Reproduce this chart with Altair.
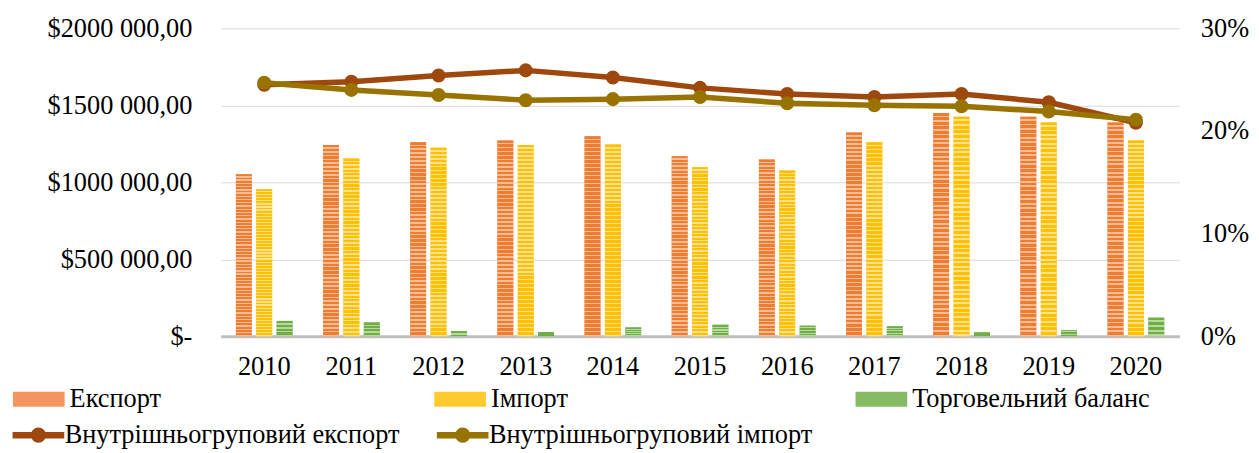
import altair as alt
import pandas as pd

# ---------------- data ----------------
years = [str(y) for y in range(2010, 2021)]
export_vals = [1052000, 1243000, 1260000, 1271000, 1299000, 1170000, 1148000, 1323000, 1450000, 1426000, 1389000]
import_vals = [955000, 1155000, 1224000, 1243000, 1245000, 1097000, 1077000, 1260000, 1426000, 1389000, 1271000]
balance_vals = [100000, 90000, 34000, 28000, 58000, 75000, 69000, 65000, 26000, 39000, 121000]
intra_export_share = [0.245, 0.248, 0.254, 0.259, 0.252, 0.242, 0.236, 0.233, 0.236, 0.228, 0.208]
intra_import_share = [0.247, 0.240, 0.235, 0.230, 0.231, 0.233, 0.227, 0.225, 0.224, 0.219, 0.211]

bar_series = ["Експорт", "Імпорт", "Торговельний баланс"]
line_series = ["Внутрішньогруповий експорт", "Внутрішньогруповий імпорт"]
bar_colors = ["#F29560", "#FFCA2E", "#85BB62"]
line_colors = ["#9E480E", "#997300"]

# stripe styling (dark stripe colour, light stripe colour, number of stripes)
stripe_styles = [("#EE7D31", "#F7BC94", 50), ("#FFC000", "#FFE08C", 48), ("#70AD47", "#B6D99E", 4)]

bars_df = pd.DataFrame(
    [{"year": y, "series": s, "value": v}
     for s, vals in zip(bar_series, [export_vals, import_vals, balance_vals])
     for y, v in zip(years, vals)]
)
lines_df = pd.DataFrame(
    [{"year": y, "series": s, "share": v}
     for s, vals in zip(line_series, [intra_export_share, intra_import_share])
     for y, v in zip(years, vals)]
)


def stripes(dark, light, n, dark_frac=0.6):
    stops = []
    for i in range(n):
        a = i / n
        m = (i + dark_frac) / n
        b = (i + 1) / n
        stops += [
            {"offset": round(a, 5), "color": dark},
            {"offset": round(m, 5), "color": dark},
            {"offset": round(m, 5), "color": light},
            {"offset": round(b, 5), "color": light},
        ]
    return {"gradient": "linear", "x1": 0, "y1": 0, "x2": 0, "y2": 1, "stops": stops}


FONT = "Liberation Serif"
FS = 26.5

BAR_SYMBOL = "M-1,-0.29H1V0.29H-1Z"
LINE_SYMBOL = "M-0.88,0H1.12M0.29,0A0.17,0.17 0 1,1 -0.05,0A0.17,0.17 0 1,1 0.29,0Z"

x_enc = alt.X(
    "year:N",
    sort=years,
    scale=alt.Scale(paddingInner=0.35, paddingOuter=0.175),
    axis=alt.Axis(title=None, labelAngle=0, ticks=False, grid=False,
                  labelFont=FONT, labelFontSize=FS, labelColor="#000000",
                  labelPadding=17, domainColor="#BFBFBF", domainWidth=3),
)
x_off = alt.XOffset("series:N", scale=alt.Scale(domain=bar_series, paddingInner=0.22))
y_left = alt.Y(
    "value:Q",
    scale=alt.Scale(domain=[0, 2000000], nice=False),
    axis=alt.Axis(
        title=None, values=[0, 500000, 1000000, 1500000, 2000000],
        labelExpr="datum.value == 0 ? '$-\u00a0\u00a0' : '$' + floor(datum.value/1000) + ' 000,00'",
        ticks=False, domain=False, grid=True, gridColor="#D9D9D9", gridWidth=1,
        labelFont=FONT, labelFontSize=FS, labelColor="#000000", labelPadding=29,
    ),
)

bars = alt.Chart(bars_df).mark_bar().encode(
    x=x_enc,
    xOffset=x_off,
    y=y_left,
    color=alt.Color(
        "series:N",
        scale=alt.Scale(domain=bar_series, range=bar_colors),
        legend=alt.Legend(
            title=None, orient="none", legendX=-209, legendY=347,
            direction="horizontal", columns=3, gridAlign="all", columnPadding=127,
            symbolType=BAR_SYMBOL, symbolSize=2704, symbolStrokeWidth=0,
            labelFont=FONT, labelFontSize=FS, labelColor="#000000",
            labelOffset=5, padding=0, labelLimit=400,
        ),
    ),
)

g = [stripes(*st) for st in stripe_styles]
bar_stripes = alt.Chart(bars_df).mark_bar().encode(
    x=alt.X("year:N", sort=years),
    xOffset=x_off,
    y=alt.Y("value:Q"),
    fill=alt.when(alt.datum.series == bar_series[0]).then(alt.value(g[0]))
    .when(alt.datum.series == bar_series[1]).then(alt.value(g[1]))
    .otherwise(alt.value(g[2])),
)

y_right = alt.Y(
    "share:Q",
    scale=alt.Scale(domain=[0, 0.3], nice=False),
    axis=alt.Axis(
        title=None, orient="right", values=[0, 0.1, 0.2, 0.3], format=".0%",
        ticks=False, domain=False, grid=False,
        labelFont=FONT, labelFontSize=FS, labelColor="#000000", labelPadding=21,
    ),
)

lines = alt.Chart(lines_df).mark_line(strokeWidth=5.5, strokeJoin="round").encode(
    x=alt.X("year:N", sort=years),
    y=y_right,
    stroke=alt.Stroke(
        "series:N",
        scale=alt.Scale(domain=line_series, range=line_colors),
        legend=alt.Legend(
            title=None, orient="none", legendX=-216, legendY=380,
            direction="horizontal", columns=2, gridAlign="all", columnPadding=23,
            symbolType=LINE_SYMBOL, symbolSize=2704, symbolStrokeWidth=6.5,
            symbolFillColor="transparent",
            labelFont=FONT, labelFontSize=FS, labelColor="#000000",
            labelOffset=0, padding=0, labelLimit=400,
        ),
    ),
)

points = alt.Chart(lines_df).mark_point(filled=True, size=200, opacity=1, strokeWidth=0).encode(
    x=alt.X("year:N", sort=years),
    y=y_right,
    fill=alt.when(alt.datum.series == line_series[0])
    .then(alt.value(line_colors[0]))
    .otherwise(alt.value(line_colors[1])),
)

left = alt.layer(bars, bar_stripes)
right = alt.layer(lines, points)

chart = (
    alt.layer(left, right)
    .resolve_scale(y="independent")
    .properties(
        width=965, height=310,
        autosize=alt.AutoSizeParams(type="none"),
        padding={"left": 214, "top": 19, "right": 72, "bottom": 116},
    )
    .configure(font=FONT)
    .configure_legend(labelFont=FONT, labelFontSize=FS, labelColor="#000000")
    .configure_view(stroke=None)
)

chart.save("out.html", embed_options={"renderer": "svg", "actions": False})
